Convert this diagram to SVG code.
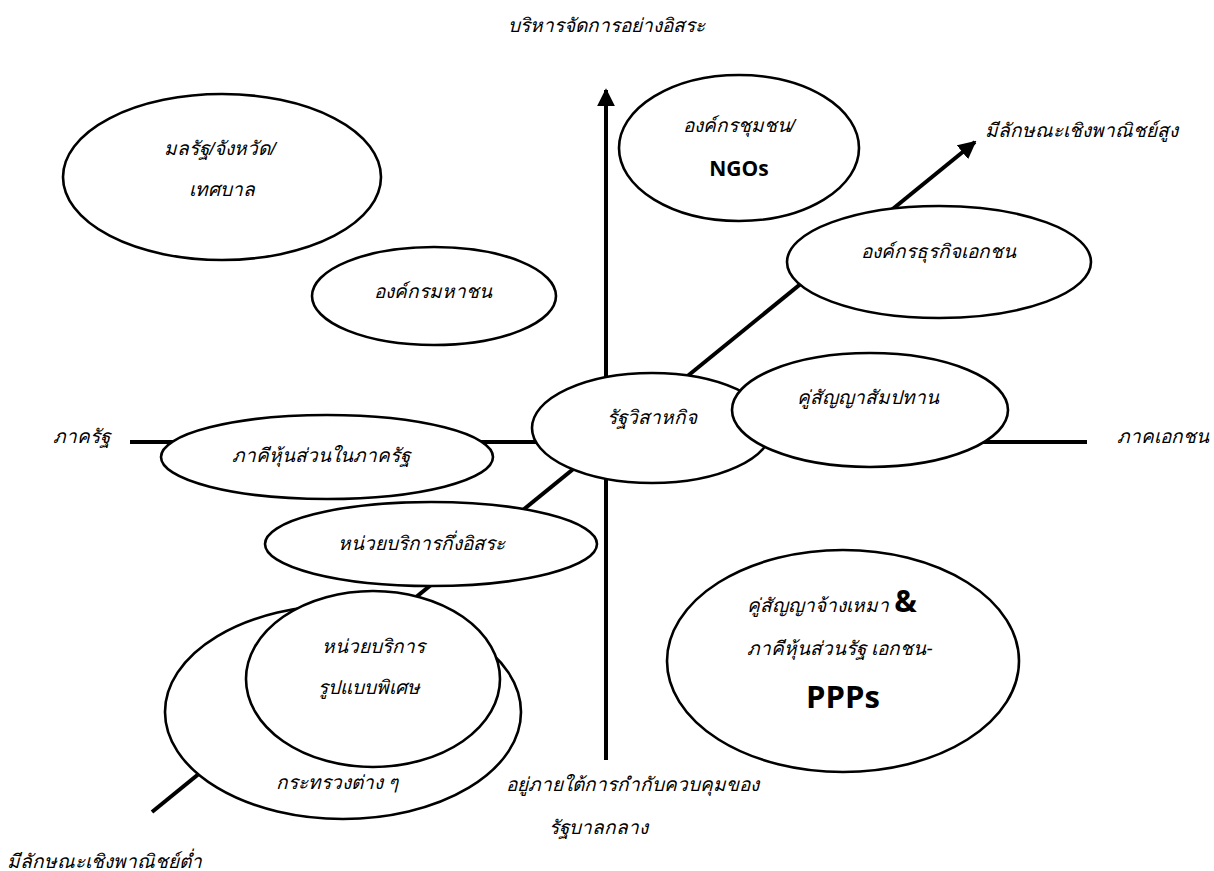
<svg xmlns="http://www.w3.org/2000/svg" width="1214" height="871" viewBox="0 0 1214 871">
<style>
.n ellipse{fill:#fff;stroke:#000;stroke-width:2.6}
.ax{stroke:#000;stroke-width:4;fill:none}
text{font-family:"Liberation Sans","Noto Sans",sans-serif;font-style:italic;font-size:19px;text-anchor:middle;fill:#000}
.st{text-anchor:start}
.b{font-family:"Open Sans","Liberation Sans",sans-serif;font-style:normal;font-weight:bold}
.s22{font-size:21px}
.s28{font-size:30px}
.s30{font-size:31px}
</style>
<defs>
<marker id="ah" viewBox="0 0 10 10" refX="9" refY="5" markerWidth="18" markerHeight="18" markerUnits="userSpaceOnUse" orient="auto">
<path d="M0,0 L10,5 L0,10 z" fill="#000"/>
</marker>
</defs>
<rect width="1214" height="871" fill="#fff"/>
<g id="connectors">
<line class="ax" x1="606" y1="760" x2="606" y2="90" marker-end="url(#ah)"/>
<line class="ax" x1="152" y1="812" x2="975" y2="142" marker-end="url(#ah)"/>
<line class="ax" x1="130" y1="442" x2="1087" y2="442"/>
</g>
<g id="labels">
<text x="606" y="32">บริหารจัดการอย่างอิสระ</text>
<text x="1081" y="137">มีลักษณะเชิงพาณิชย์สูง</text>
<text x="81" y="443">ภาครัฐ</text>
<text x="1163" y="443">ภาคเอกชน</text>
<text x="632" y="791">อยู่ภายใต้การกำกับควบคุมของ</text>
<text x="598" y="834">รัฐบาลกลาง</text>
<text x="104" y="868">มีลักษณะเชิงพาณิชย์ต่ำ</text>
</g>
<g id="n-local" class="n">
<ellipse cx="222" cy="177" rx="159" ry="83"/>
<text x="220" y="155">มลรัฐ/จังหวัด/</text>
<text x="222" y="196">เทศบาล</text>
</g>
<g id="n-public-org" class="n">
<ellipse cx="434" cy="296" rx="122" ry="49"/>
<text x="433" y="298">องค์กรมหาชน</text>
</g>
<g id="n-ngo" class="n">
<ellipse cx="739" cy="148" rx="120" ry="73"/>
<text x="739" y="132">องค์กรชุมชน/</text>
<text class="b s22" x="739" y="176">NGOs</text>
</g>
<g id="n-business" class="n">
<ellipse cx="939" cy="262" rx="152" ry="56"/>
<text x="938" y="258">องค์กรธุรกิจเอกชน</text>
</g>
<g id="n-soe" class="n">
<ellipse cx="652" cy="428" rx="120" ry="55"/>
<text x="652" y="424">รัฐวิสาหกิจ</text>
</g>
<g id="n-concession" class="n">
<ellipse cx="870" cy="410" rx="138" ry="57"/>
<text x="868" y="404">คู่สัญญาสัมปทาน</text>
</g>
<g id="n-state-partner" class="n">
<ellipse cx="327" cy="457" rx="166" ry="42"/>
<text x="321" y="462">ภาคีหุ้นส่วนในภาครัฐ</text>
</g>
<g id="n-semi" class="n">
<ellipse cx="431" cy="544" rx="166" ry="42"/>
<text x="421" y="550">หน่วยบริการกึ่งอิสระ</text>
</g>
<g id="n-ministry" class="n">
<ellipse cx="343" cy="712" rx="178" ry="107"/>
<text x="337" y="789">กระทรวงต่าง ๆ</text>
</g>
<g id="n-special" class="n">
<ellipse cx="373" cy="679" rx="127" ry="88"/>
<text x="373" y="653">หน่วยบริการ</text>
<text x="369" y="694">รูปแบบพิเศษ</text>
</g>
<g id="n-ppp" class="n">
<ellipse cx="843" cy="661" rx="176" ry="111"/>
<text class="st" x="747" y="612">คู่สัญญาจ้างเหมา <tspan class="b s28">&amp;</tspan></text>
<text class="st" x="747" y="655">ภาคีหุ้นส่วนรัฐ เอกชน-</text>
<text class="b s30" x="843" y="708">PPPs</text>
</g>
</svg>
